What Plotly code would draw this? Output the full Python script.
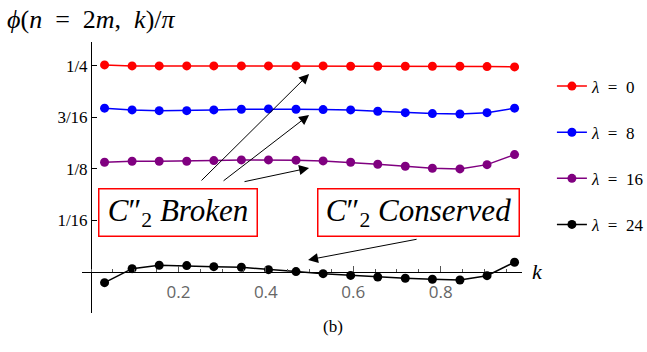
import plotly.graph_objects as go

# data
k_vals = [0.031, 0.094, 0.156, 0.219, 0.281, 0.344, 0.406, 0.469,
          0.531, 0.594, 0.656, 0.719, 0.781, 0.844, 0.906, 0.969]
phi_lam0 = [0.2512, 0.2500, 0.2500, 0.2500, 0.2500, 0.2500, 0.2500, 0.2500,
            0.2500, 0.2496, 0.2496, 0.2496, 0.2496, 0.2496, 0.2492, 0.2488]
phi_lam8 = [0.1987, 0.1966, 0.1957, 0.1957, 0.1966, 0.1974, 0.1978, 0.1974,
            0.1970, 0.1966, 0.1950, 0.1933, 0.1921, 0.1917, 0.1933, 0.1987]
phi_lam16 = [0.1331, 0.1343, 0.1343, 0.1343, 0.1351, 0.1359, 0.1359, 0.1356,
             0.1347, 0.1331, 0.1307, 0.1283, 0.1258, 0.1250, 0.1302, 0.1424]
phi_lam24 = [-0.0130, 0.0040, 0.0081, 0.0077, 0.0064, 0.0057, 0.0028, 0.0004,
             -0.0021, -0.0042, -0.0061, -0.0077, -0.0089, -0.0097, -0.0045, 0.0118]

series = [("0", phi_lam0, "#ff0000"),
          ("8", phi_lam8, "#0000ff"),
          ("16", phi_lam16, "#800080"),
          ("24", phi_lam24, "#000000")]

y_tickvals = [1/16, 1/8, 3/16, 1/4]
y_ticktext = ["1/16", "1/8", "3/16", "1/4"]
x_tickvals = [0.2, 0.4, 0.6, 0.8]
x_ticktext = ["0.2", "0.4", "0.6", "0.8"]

SERIF = "Liberation Serif"
SP = "\u2002"  # en space, Mathematica-like spacing around "="

fig = go.Figure()
for lam, vals, col in series:
    fig.add_trace(go.Scatter(x=k_vals, y=vals, mode="lines+markers",
                             name="<i>λ</i>" + SP + "=" + SP + lam, legendgroup=lam,
                             line=dict(color=col, width=1.5),
                             marker=dict(color=col, size=9)))

# boxed labels
box_font = dict(family=SERIF, size=31, color="black")
fig.add_annotation(x=0.198, y=0.0722, xref="x", yref="y", showarrow=False,
                   text="<i>C</i>″<sub>2</sub> <i>Broken</i>", font=box_font,
                   bordercolor="#ff0000", borderwidth=1.5, borderpad=2,
                   width=153, height=42)
fig.add_annotation(x=0.750, y=0.0722, xref="x", yref="y", showarrow=False,
                   text="<i>C</i>″<sub>2</sub> <i>Conserved</i>", font=box_font,
                   bordercolor="#ff0000", borderwidth=1.5, borderpad=2,
                   width=196, height=42)

# arrows (tail -> head)
arrows = [((0.2494, 0.1092), (0.4989, 0.2403)),
          ((0.2998, 0.1092), (0.4989, 0.1905)),
          ((0.3478, 0.1092), (0.4989, 0.1262)),
          ((0.7483, 0.0400), (0.4966, 0.0146))]
for (tx, ty), (hx, hy) in arrows:
    fig.add_annotation(x=hx, y=hy, ax=tx, ay=ty, xref="x", yref="y",
                       axref="x", ayref="y", text="", showarrow=True,
                       arrowhead=2, arrowsize=2, arrowwidth=1,
                       arrowcolor="black")

# axis label k and caption
fig.add_annotation(x=0.986, y=0, xref="x", yref="y", xanchor="left",
                   showarrow=False, text="<i>k</i>", xshift=8,
                   font=dict(family=SERIF, size=22, color="black"))
fig.add_annotation(x=(333 - 82) / 440, y=(313 - 338) / 271,
                   xref="paper", yref="paper", showarrow=False,
                   text="(b)", font=dict(family=SERIF, size=17, color="black"))

fig.update_layout(
    width=647, height=352,
    margin=dict(l=82, r=125, t=42, b=39, autoexpand=False),
    plot_bgcolor="white", paper_bgcolor="white",
    title=dict(text="<i>ϕ</i>(<i>n</i>" + SP + "=" + SP + "2<i>m</i>," + SP
                    + "<i>k</i>)/<i>π</i>",
               xref="container", yref="container", x=7/647, xanchor="left",
               y=1 - 19/352, yanchor="middle",
               font=dict(family=SERIF, size=26, color="black")),
    legend=dict(x=1.068, y=0.902, xanchor="left", yanchor="top",
                font=dict(family=SERIF, size=17, color="black"),
                tracegroupgap=21, itemwidth=30, bgcolor="rgba(0,0,0,0)"),
    xaxis=dict(range=[-0.0206, 0.986], anchor="free", position=0.1513,
               showgrid=False, zeroline=False, showline=True,
               linecolor="black", linewidth=1,
               tickvals=x_tickvals, ticktext=x_ticktext,
               ticks="inside", ticklen=6, tickcolor="#555",
               ticklabelstandoff=5,
               minor=dict(dtick=0.05, tick0=0, ticks="inside", ticklen=3,
                          tickcolor="#555"),
               tickfont=dict(family="Open Sans", size=17, color="#666")),
    yaxis=dict(range=[-0.0498, 0.279], anchor="free", position=0.0205,
               showgrid=False, zeroline=False, showline=True,
               linecolor="black", linewidth=1,
               tickvals=y_tickvals, ticktext=y_ticktext,
               ticks="inside", ticklen=5, tickcolor="black",
               tickfont=dict(family=SERIF, size=17, color="black")),
)

fig.write_html("out.html", post_script="document.body.style.margin='0px';",
               config={"displayModeBar": False})
